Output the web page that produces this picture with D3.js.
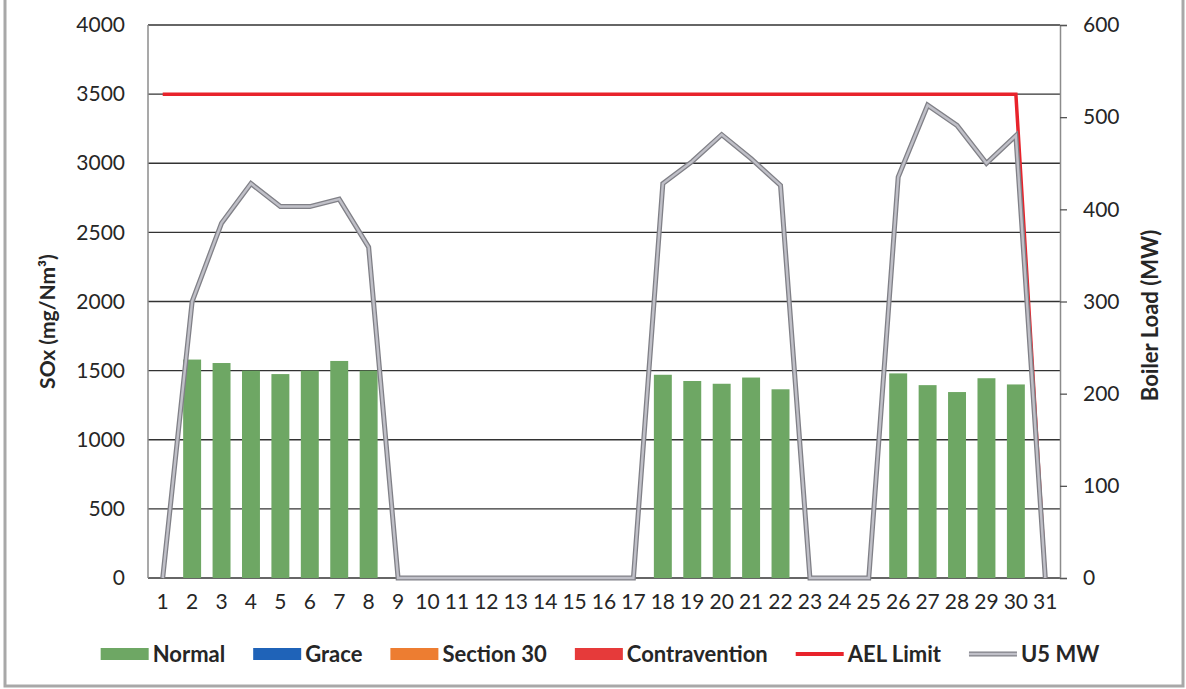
<!DOCTYPE html>
<html>
<head>
<meta charset="utf-8">
<script src="https://cdn.jsdelivr.net/npm/d3@7"></script>
<style>
  html, body { margin: 0; padding: 0; background: #fff; }
  svg { display: block; font-family: Lato, 'Open Sans', sans-serif; }
</style>
</head>
<body>
<svg id="chart" width="1186" height="689"></svg>
<script>
// Days of the month (x categories)
const days = d3.range(1, 32);

// SOx (mg/Nm3), "Normal" status bars; null = no bar
const normal = [null, 1580, 1555, 1500, 1475, 1500, 1570, 1500,
  null, null, null, null, null, null, null, null, null,
  1470, 1425, 1405, 1450, 1365,
  null, null, null,
  1480, 1395, 1345, 1445, 1400, null];

// Other statuses are empty this month
const grace = days.map(() => null);
const section30 = days.map(() => null);
const contravention = days.map(() => null);

// AEL limit (mg/Nm3)
const aelLimit = [3500, 3500, 3500, 3500, 3500, 3500, 3500, 3500, 3500, 3500,
  3500, 3500, 3500, 3500, 3500, 3500, 3500, 3500, 3500, 3500,
  3500, 3500, 3500, 3500, 3500, 3500, 3500, 3500, 3500, 3500, 0];

// Unit 5 boiler load (MW), right axis
const u5mw = [0, 300, 385, 428, 403, 403, 411, 359,
  0, 0, 0, 0, 0, 0, 0, 0, 0,
  428, 452, 481, 455, 426,
  0, 0, 0,
  435, 513, 491, 450, 480, 0];

const yTicksLeft = [0, 500, 1000, 1500, 2000, 2500, 3000, 3500, 4000];
const yTicksRight = [0, 100, 200, 300, 400, 500, 600];

const colors = {
  normal: '#6ea764',
  grace: '#1f63b8',
  section30: '#ed7d31',
  contravention: '#e63a3a',
  ael: '#e8232b',
  mw: '#a3a3ab',
};

const margin = { top: 25, left: 148, right: 126, bottom: 111 };
const width = 1186;
const height = 689;

const svg = d3.select('#chart');

// outer frame of the scanned figure
svg.append('rect')
  .attr('x', 5).attr('y', -3)
  .attr('width', 1178).attr('height', 689)
  .attr('fill', 'none')
  .attr('stroke', '#a8a8a8')
  .attr('stroke-width', 3);

const x = d3.scaleBand()
  .domain(days)
  .range([margin.left, width - margin.right])
  .paddingInner(0.39)
  .paddingOuter(0.195);

const y = d3.scaleLinear()
  .domain([0, 4000])
  .range([height - margin.bottom, margin.top]);

const y2 = d3.scaleLinear()
  .domain([0, 600])
  .range([height - margin.bottom, margin.top]);

const cx = (d) => x(d) + x.bandwidth() / 2;

// gridlines
svg.append('g')
  .selectAll('line')
  .data(yTicksLeft)
  .join('line')
  .attr('x1', margin.left)
  .attr('x2', width - margin.right)
  .attr('y1', (d) => y(d))
  .attr('y2', (d) => y(d))
  .attr('stroke', '#333')
  .attr('stroke-width', 1.4);

// left frame line
svg.append('line')
  .attr('x1', margin.left).attr('x2', margin.left)
  .attr('y1', y(4000)).attr('y2', y(0))
  .attr('stroke', '#8c8c8c')
  .attr('stroke-width', 1.5);

// left axis
const axisLeft = svg.append('g')
  .attr('transform', `translate(${margin.left},0)`)
  .call(d3.axisLeft(y).tickValues(yTicksLeft).tickFormat(d3.format('d'))
    .tickSize(0).tickPadding(23));
axisLeft.select('.domain').remove();

// right axis
const axisRight = svg.append('g')
  .attr('transform', `translate(${width - margin.right},0)`)
  .call(d3.axisRight(y2).tickValues(yTicksRight).tickSize(7).tickPadding(16));
axisRight.select('.domain').attr('stroke', '#8c8c8c').attr('stroke-width', 1.5);
axisRight.selectAll('.tick line').attr('stroke', '#555').attr('stroke-width', 1.3);

// bottom axis labels
const axisBottom = svg.append('g')
  .attr('transform', `translate(0,${y(0)})`)
  .call(d3.axisBottom(x).tickSize(0).tickPadding(16));
axisBottom.select('.domain').remove();

svg.selectAll('.tick text')
  .attr('font-family', 'Lato, sans-serif')
  .attr('font-size', 21)
  .attr('fill', '#262626');

// axis titles
svg.append('text')
  .attr('transform', `translate(55,${(y(0) + y(4000)) / 2 + 20}) rotate(-90)`)
  .attr('text-anchor', 'middle')
  .attr('font-size', 21)
  .attr('font-weight', 'bold')
  .attr('fill', '#262626')
  .text('SOx (mg/Nm³)');

svg.append('text')
  .attr('transform', `translate(1158,${(y(0) + y(4000)) / 2 + 14}) rotate(-90)`)
  .attr('text-anchor', 'middle')
  .attr('font-size', 22)
  .attr('font-weight', 'bold')
  .attr('fill', '#262626')
  .text('Boiler Load (MW)');

// bars (stacked statuses; only Normal has values)
const barSeries = [
  { key: 'normal', values: normal },
  { key: 'grace', values: grace },
  { key: 'section30', values: section30 },
  { key: 'contravention', values: contravention },
];

barSeries.forEach((s) => {
  svg.append('g')
    .selectAll('rect')
    .data(days.map((d, i) => ({ day: d, v: s.values[i] })).filter((d) => d.v != null))
    .join('rect')
    .attr('x', (d) => x(d.day))
    .attr('width', x.bandwidth())
    .attr('y', (d) => y(d.v))
    .attr('height', (d) => y(0) - y(d.v))
    .attr('fill', colors[s.key]);
});

// AEL limit line
const lineAel = d3.line()
  .x((d, i) => cx(days[i]))
  .y((d) => y(d));

svg.append('path')
  .datum(aelLimit)
  .attr('d', lineAel)
  .attr('fill', 'none')
  .attr('stroke', colors.ael)
  .attr('stroke-width', 3.5);

// U5 MW line (drawn as outlined grey line)
const lineMw = d3.line()
  .x((d, i) => cx(days[i]))
  .y((d) => y2(d));

svg.append('path')
  .datum(u5mw)
  .attr('d', lineMw)
  .attr('fill', 'none')
  .attr('stroke', '#808087')
  .attr('stroke-width', 5)
  .attr('stroke-linejoin', 'miter');

svg.append('path')
  .datum(u5mw)
  .attr('d', lineMw)
  .attr('fill', 'none')
  .attr('stroke', '#c0c0c8')
  .attr('stroke-width', 2.4)
  .attr('stroke-linejoin', 'miter');

// legend
const legendItems = [
  { label: 'Normal', type: 'rect', color: colors.normal },
  { label: 'Grace', type: 'rect', color: colors.grace },
  { label: 'Section 30', type: 'rect', color: colors.section30 },
  { label: 'Contravention', type: 'rect', color: colors.contravention },
  { label: 'AEL Limit', type: 'line', color: colors.ael },
  { label: 'U5 MW', type: 'line', color: colors.mw },
];

const legend = svg.append('g');
const legendY = 654;
let cursor = 0;

legendItems.forEach((item) => {
  const g = legend.append('g').attr('transform', `translate(${cursor},0)`);
  if (item.type === 'rect') {
    g.append('rect')
      .attr('x', 0).attr('y', legendY - 6)
      .attr('width', 48).attr('height', 12)
      .attr('fill', item.color);
  } else if (item.label === 'U5 MW') {
    g.append('line')
      .attr('x1', 0).attr('x2', 48).attr('y1', legendY).attr('y2', legendY)
      .attr('stroke', '#808087').attr('stroke-width', 5);
    g.append('line')
      .attr('x1', 0).attr('x2', 48).attr('y1', legendY).attr('y2', legendY)
      .attr('stroke', '#c0c0c8').attr('stroke-width', 2.4);
  } else {
    g.append('line')
      .attr('x1', 0).attr('x2', 48).attr('y1', legendY).attr('y2', legendY)
      .attr('stroke', item.color).attr('stroke-width', 4);
  }
  const t = g.append('text')
    .attr('x', 52)
    .attr('y', legendY + 8)
    .attr('font-size', 22)
    .attr('font-weight', 'bold')
    .attr('fill', '#262626')
    .text(item.label);
  cursor += 52 + t.node().getComputedTextLength() + 28;
});

const legendWidth = cursor - 28;
legend.attr('transform', `translate(${600 - legendWidth / 2},0)`);
</script>
</body>
</html>
